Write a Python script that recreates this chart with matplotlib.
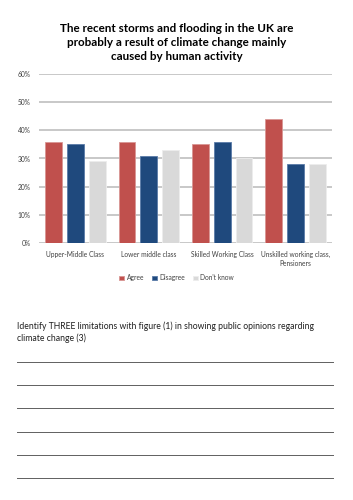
import matplotlib
matplotlib.use("Agg")
import matplotlib.pyplot as plt
import numpy as np
from matplotlib.lines import Line2D

categories = ["Upper-Middle Class", "Lower middle class", "Skilled Working Class",
              "Unskilled working class,\nPensioners"]
agree = [36, 36, 35, 44]
disagree = [35, 31, 36, 28]
dont_know = [29, 33, 30, 28]
series_names = ["Agree", "Disagree", "Don't know"]
y_ticks = [0, 10, 20, 30, 40, 50, 60]

plt.rcParams['font.family'] = ['Lato', 'DejaVu Sans']

fig = plt.figure(figsize=(3.53, 5.0), dpi=100)
ax = fig.add_axes([0.110, 0.514, 0.831, 0.338])

x = np.arange(len(categories))
w = 0.228
pitch = 0.296
colors = ["#C0504D", "#1F497D", "#D9D9D9"]
edges = ["#D99694", "#5A7BA8", "#EDEDED"]
for i, (vals, name) in enumerate(zip([agree, disagree, dont_know], series_names)):
    ax.bar(x + (i - 1) * pitch, vals, w, color=colors[i], edgecolor=edges[i],
           linewidth=0.6, label=name, zorder=3)

ax.set_ylim(0, 60)
ax.set_xlim(-0.5, len(categories) - 0.5)
ax.set_yticks(y_ticks)
ax.set_yticklabels([f"{v}%" for v in y_ticks])
ax.set_xticks(x)
ax.set_xticklabels(categories)
ax.tick_params(axis='both', length=0, labelsize=4.8, colors="#404040")
ax.tick_params(axis='y', pad=6)
ax.tick_params(axis='x', pad=6)
ax.grid(axis='y', color="#BFBFBF", linewidth=1.2, zorder=0)
for s in ax.spines.values():
    s.set_visible(False)

ax.legend(loc='upper center', bbox_to_anchor=(0.47, -0.15), ncol=3, frameon=False,
          fontsize=4.8, handlelength=0.7, handleheight=0.7, handletextpad=0.4,
          columnspacing=1.2, labelcolor="#404040")

fig.text(0.5, 0.953, "The recent storms and flooding in the UK are\n"
         "probably a result of climate change mainly\ncaused by human activity",
         ha='center', va='top', fontsize=8.4, fontweight='bold', linespacing=1.3)

fig.text(0.047, 0.358, "Identify THREE limitations with figure (1) in showing public opinions regarding\n"
         "climate change (3)", ha='left', va='top', fontsize=6.2, color="#202020",
         linespacing=1.45)

for yy in [361.7, 385, 408.3, 431.7, 455, 478.3]:
    fig.add_artist(Line2D([0.047, 0.943], [1 - yy / 500, 1 - yy / 500],
                          color="#606060", linewidth=0.7))

fig.savefig("out.png", dpi=100)
